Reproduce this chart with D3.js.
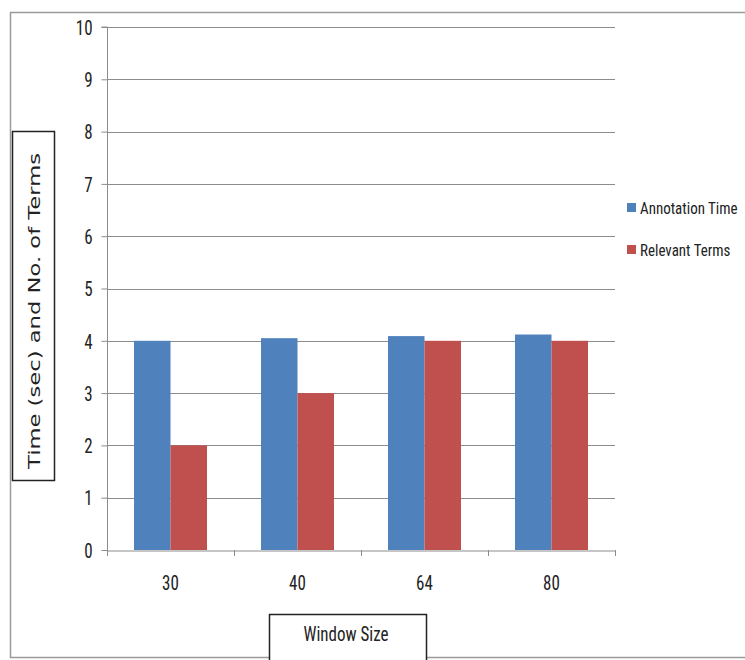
<!DOCTYPE html>
<html><head><meta charset="utf-8">
<script src="https://cdn.jsdelivr.net/npm/d3@7"></script>
<style>body{margin:0;background:#fff}</style>
</head><body>
<svg id="c" width="745" height="660"></svg>
<script>
const categories = ["30", "40", "64", "80"];
const seriesNames = ["Annotation Time", "Relevant Terms"];
const annotationTime = [4.0, 4.05, 4.09, 4.12];
const relevantTerms = [2, 3, 4, 4];
const yTicks = [0,1,2,3,4,5,6,7,8,9,10];
const colors = ["#4F81BD", "#C0504D"];

(function(){
const svg = d3.select("#c");
const font = "'Roboto Condensed','Liberation Sans Narrow',Arial,sans-serif";
const pLeft = 107, pRight = 615, pTop = 27, pBottom = 550;
const stretch = 1.18;

// outer frame
svg.append("rect").attr("x",10.5).attr("y",12.5).attr("width",745).attr("height",645)
  .attr("fill","none").attr("stroke","#9a9a9a").attr("stroke-width",1.5);

const x = d3.scaleBand().domain(categories).range([pLeft,pRight]);
const y = d3.scaleLinear().domain([0,10]).range([pBottom,pTop]);
const inner = d3.scaleBand().domain(seriesNames).range([0,73]);

// gridlines
svg.append("g").selectAll("line").data(yTicks.filter(d=>d>0)).join("line")
  .attr("x1",pLeft).attr("x2",pRight).attr("y1",d=>Math.round(y(d))+0.5).attr("y2",d=>Math.round(y(d))+0.5)
  .attr("stroke","#8c8c8c").attr("stroke-width",1.2);

// bars
const data = categories.map((c,i)=>({c, vals:[annotationTime[i], relevantTerms[i]]}));
const g = svg.append("g");
data.forEach(d=>{
  const cx = x(d.c) + x.bandwidth()/2 - 36.5;
  d.vals.forEach((v,j)=>{
    g.append("rect").attr("x", cx + inner(seriesNames[j])).attr("width", inner.bandwidth())
      .attr("y", y(v)).attr("height", y(0)-y(v)).attr("fill", colors[j]);
  });
});

// y axis
const ya = svg.append("g").attr("transform",`translate(${pLeft+0.5},0)`)
  .call(d3.axisLeft(y).tickValues(yTicks).tickSize(6).tickPadding(9).tickFormat(d3.format("d")));
ya.select(".domain").attr("stroke","#8c8c8c").attr("d",`M-6,${y(10)}H0V${y(0)}`);
ya.selectAll(".tick line").attr("stroke","#8c8c8c");
ya.selectAll("text").attr("font-family",font).attr("font-size",17).attr("fill","#222")
  .attr("y",0).attr("dy","0.36em").attr("transform",`scale(1,${stretch})`);

// x axis
const xa = svg.append("g").attr("transform",`translate(0,${pBottom+0.5})`)
  .call(d3.axisBottom(x).tickSize(0));
xa.select(".domain").attr("stroke","#8c8c8c");
xa.selectAll("text").attr("font-family",font).attr("font-size",17).attr("fill","#222")
  .attr("y",0).attr("dy","0.36em").attr("transform",`translate(0,32) scale(1,${stretch})`);
svg.append("g").selectAll("line").data(categories.map(c=>x(c)).concat([pRight])).join("line")
  .attr("x1",d=>Math.round(d)+0.5).attr("x2",d=>Math.round(d)+0.5).attr("y1",pBottom).attr("y2",pBottom+6)
  .attr("stroke","#8c8c8c");

// legend
const lg = svg.append("g");
seriesNames.forEach((s,i)=>{
  const ly = 208 + i*42;
  lg.append("rect").attr("x",627).attr("y",ly-5).attr("width",9).attr("height",9).attr("fill",colors[i]);
  lg.append("text").attr("x",640).attr("y",0).attr("dy","0.36em").attr("font-family",font)
    .attr("transform",`translate(0,${ly}) scale(1,1.1)`)
    .attr("font-size",15).attr("fill","#222").text(s);
});

// y title box
svg.append("rect").attr("x",12.5).attr("y",131.5).attr("width",42).attr("height",349)
  .attr("fill","#fff").attr("stroke","#222").attr("stroke-width",1.5);
svg.append("text").attr("transform","translate(34,311) rotate(-90)").attr("text-anchor","middle")
  .attr("dy","0.36em").attr("font-family","'DejaVu Sans',Verdana,sans-serif").attr("font-size",16)
  .attr("textLength",316).attr("lengthAdjust","spacingAndGlyphs")
  .attr("fill","#222").text("Time (sec) and No. of Terms");

// x title box
svg.append("rect").attr("x",269.5).attr("y",614.5).attr("width",157).attr("height",60)
  .attr("fill","#fff").attr("stroke","#222").attr("stroke-width",1.5);
svg.append("text").attr("x",346).attr("y",0).attr("text-anchor","middle").attr("dy","0.36em")
  .attr("transform",`translate(0,634) scale(1,${stretch})`)
  .attr("font-family",font).attr("font-size",17).attr("fill","#222").text("Window Size");
})();
</script>
</body></html>
